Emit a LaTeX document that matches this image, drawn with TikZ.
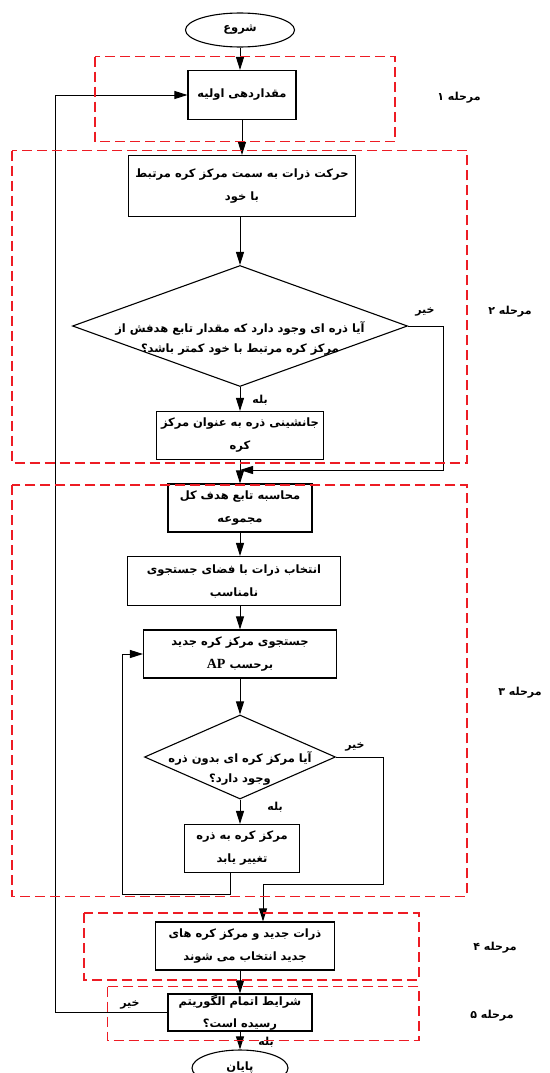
\documentclass[tikz,border=0pt]{standalone}
\usepackage{fontspec}
\usepackage{xcolor}
\usetikzlibrary{shapes,arrows.meta,positioning,calc}
\TeXXeTstate=1
\newfontfamily\farsifont[Script=Arabic]{DejaVu Sans}
\newfontfamily\apfont{Liberation Serif}
\definecolor{phasered}{RGB}{237,28,36}
\newcommand{\fa}[1]{\beginR #1\endR}

\begin{document}
\begin{tikzpicture}[x=1pt, y=-1pt,
	box/.style={draw, rectangle, line width=1.1pt, align=center, inner sep=1pt, font=\farsifont\bfseries\fontsize{11.5}{23}\selectfont},
	term/.style={draw, ellipse, line width=1.1pt, inner sep=0pt, font=\farsifont\bfseries\fontsize{11.5}{13}\selectfont},
	cond/.style={draw, diamond, line width=1.1pt, inner sep=0pt},
	condtext/.style={align=center, font=\farsifont\bfseries\fontsize{11.5}{20}\selectfont},
	answer/.style={font=\farsifont\bfseries\fontsize{11}{12}\selectfont, inner sep=1pt},
	phase/.style={draw=phasered, dash pattern=on 10pt off 5pt, line width=1.2pt},
	arr/.style={-{Triangle[length=13pt,width=8pt]}, line width=1pt}]
				\useasboundingbox (0,0) rectangle (549,1073);
				
				% Start and first stage
				\node[term, minimum width=109pt, minimum height=34pt] (start) at (240,30) {\fa{شروع}};
				\node[box, minimum width=108pt, minimum height=49pt] (init) at (242,95) {\fa{مقداردهی اولیه}};
				
				% Stage 2: move towards sphere centres
				\node[box, minimum width=227pt, minimum height=61pt] (move) at (242,186) {\fa{حرکت ذرات به سمت مرکز کره مرتبط}\\\fa{با خود}};
				\node[cond, minimum width=335pt, minimum height=121pt] (dec1) at (240,326) {};
				\node[condtext] (dec1txt) at (240,338) {\fa{آیا ذره ای وجود دارد که مقدار تابع هدفش از}\\\fa{مرکز کره مرتبط با خود کمتر باشد؟}};
				\node[box, minimum width=167pt, minimum height=48pt] (repl) at (240,435.5) {\fa{جانشینی ذره به عنوان مرکز}\\\fa{کره}};
				
				% Stage 3
				\node[box, minimum width=144pt, minimum height=48pt] (calc) at (240,508) {\fa{محاسبه تابع هدف کل}\\\fa{مجموعه}};
				\node[box, minimum width=213pt, minimum height=49pt] (sel) at (234,581) {\fa{انتخاب ذرات با فضای جستجوی}\\\fa{نامناسب}};
				\node[box, minimum width=193pt, minimum height=48pt] (search) at (240,654) {\fa{جستجوی مرکز کره جدید}\\\fa{برحسب \beginL{\apfont\bfseries\fontsize{14}{23}\selectfont AP}\endL}};
				\node[cond, minimum width=191pt, minimum height=84pt] (dec2) at (240,757) {};
				\node[condtext] (dec2txt) at (240,768) {\fa{آیا مرکز کره ای بدون ذره}\\\fa{وجود دارد؟}};
				\node[box, minimum width=115pt, minimum height=48pt] (change) at (242,848.5) {\fa{مرکز کره به ذره}\\\fa{تغییر یابد}};
				
				% Stages 4 and 5
				\node[box, minimum width=179pt, minimum height=48pt] (newp) at (245,946) {\fa{ذرات جدید و مرکز کره های}\\\fa{جدید انتخاب می شوند}};
				\node[box, minimum width=144pt, minimum height=37pt, inner sep=0pt, font=\farsifont\bfseries\fontsize{11.5}{22}\selectfont] (stop) at (240,1012.5) {\fa{شرایط اتمام الگوریتم}\\\fa{رسیده است؟}};
				\node[term, minimum width=96pt, minimum height=36pt] (end) at (240,1068) {\fa{پایان}};
				
				% Corner points of the loops
				\coordinate (c1) at (443,470);
				\coordinate (j1) at (240,470);
				\coordinate (c2) at (122,894);
				\coordinate (c3) at (383,884);
				\coordinate (c4) at (55,1012.5);
				
				% Main flow
				\draw[arr] (start.south) -- (start.south |- init.north);
				\draw[arr] (init.south) -- (move.north);
				\draw[arr] (move.south -| dec1.north) -- (dec1.north);
				\draw[arr] (dec1.south) -- (repl.north);
				\draw[arr] (repl.south) -- (calc.north);
				\draw[arr] (calc.south) -- (calc.south |- sel.north);
				\draw[arr] (sel.south -| search.north) -- (search.north);
				\draw[arr] (search.south) -- (dec2.north);
				\draw[arr] (dec2.south) -- (dec2.south |- change.north);
				\draw[arr] (newp.south -| stop.north) -- (stop.north);
				\draw[arr] (stop.south) -- (end.north);
				
				% Loops and "no" branches
				\draw[arr] (dec1.east) -| (c1) -- (j1);
				\draw[arr] ([xshift=-12pt]change.south) |- (c2) |- (search.west);
				\draw[arr] (dec2.east) -| (c3) -| ([xshift=18pt]newp.north);
				\draw[arr] (stop.west) -- (c4) |- (init.west);
				
				% Answers
				\node[answer] (yes1) at (260,400) {\fa{بله}};
				\node[answer] (no1) at (425,312) {\fa{خیر}};
				\node[answer] (yes2) at (275,807) {\fa{بله}};
				\node[answer] (no2) at (355,747) {\fa{خیر}};
				\node[answer] (no3) at (130,1005) {\fa{خیر}};
				\node[answer] (yes3) at (266,1042) {\fa{بله}};
				
				% Stage frames
				\draw[phase] (95,56.7) rectangle (395,141.7);
				\draw[phase] (12,150.7) rectangle (467,463);
				\draw[phase] (12,485) rectangle (467,896.7);
				\draw[phase] (84,913) rectangle (419,980);
				\draw[phase] (107.7,986.7) rectangle (419,1040.7);
				
				% Stage labels
				\node[answer] (lab1) at (459,98) {\fa{مرحله ۱}};
				\node[answer] (lab2) at (510,312) {\fa{مرحله ۲}};
				\node[answer] (lab3) at (520,693) {\fa{مرحله ۳}};
				\node[answer] (lab4) at (495,948) {\fa{مرحله ۴}};
				\node[answer] (lab5) at (492,1016) {\fa{مرحله ۵}};
			\end{tikzpicture}
\end{document}
